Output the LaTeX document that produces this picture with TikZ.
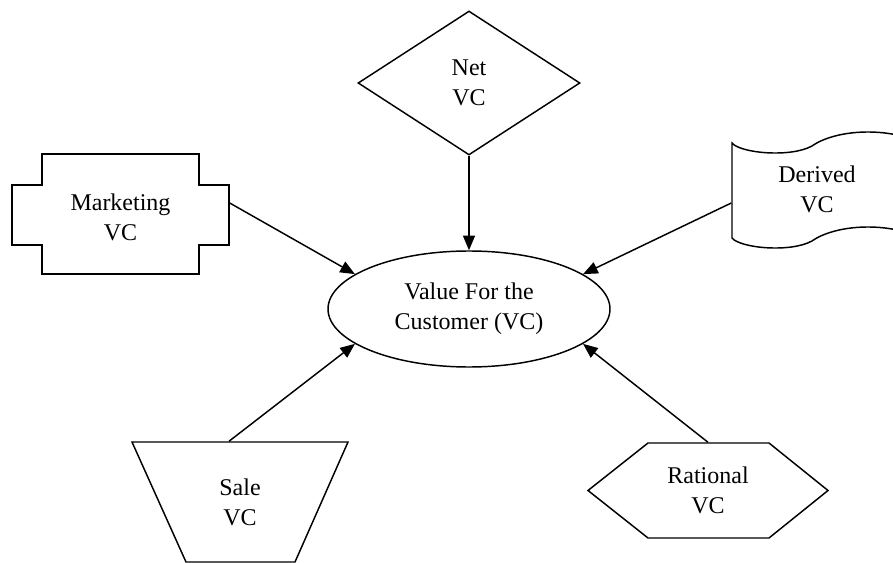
\documentclass[tikz,border=0pt]{standalone}
\usepackage{fontspec}
\setmainfont{Liberation Serif}
\usetikzlibrary{shapes.geometric,arrows.meta,calc}

\begin{document}
\begin{tikzpicture}[x=0.75pt, y=-0.75pt, line width=1.1pt,
  lbl/.style={align=center, font=\fontsize{18}{22.5}\selectfont, inner sep=0pt},
  link/.style={-{Triangle[length=11pt,width=9pt]}}]
\useasboundingbox (0,0) rectangle (893,563);

% centre
\node[lbl, draw, ellipse, minimum width=211.5pt, minimum height=87pt] (vc) at (469,309) {Value For the\\Customer (VC)};

% top
\node[lbl, draw, diamond, minimum width=166.5pt, minimum height=108pt] (net) at (469,83) {Net\\VC};

% left
\node[lbl, minimum width=162.75pt, minimum height=90pt] (mkt) at (120.5,217) {Marketing\\VC};
\draw (42,154) -| (199,185) -| (229,245) -| (199,274) -| (42,245) -| (12,185) -| (42,154) -- cycle;

% right, runs off the page
\node[lbl, minimum width=127.5pt] (dvc) at (817,189) {Derived\\VC};
\draw (905,137) .. controls (870,127) and (830,133) .. (812,146)
  .. controls (790,158) and (740,153) .. (732,143) -- (732,238)
  .. controls (740,248) and (790,253) .. (812,241)
  .. controls (830,228) and (870,222) .. (905,232);

% bottom
\draw (132,442) -- (348,442) -- (295,562) -- (186,562) -- cycle;
\node[lbl, minimum height=90pt] (sale) at (240,502) {Sale\\VC};

\draw (648,443) -- (769,443) -- (828,490.5) -- (769,538) -- (648,538) -- (588,490.5) -- cycle;
\node[lbl, minimum height=71.25pt] (rat) at (708,490.5) {Rational\\VC};

% arrows
\draw[link] (net.south) -- (vc.north);
\draw[link] ($(mkt.east)+(0,-14)$) -- (vc.163);
\draw[link] ($(dvc.west)+(0,14)$) -- (vc.17);
\draw[link] ($(sale.north)+(-11,0)$) -- (vc.197);
\draw[link] (rat.north) -- (vc.-17);
\end{tikzpicture}
\end{document}
